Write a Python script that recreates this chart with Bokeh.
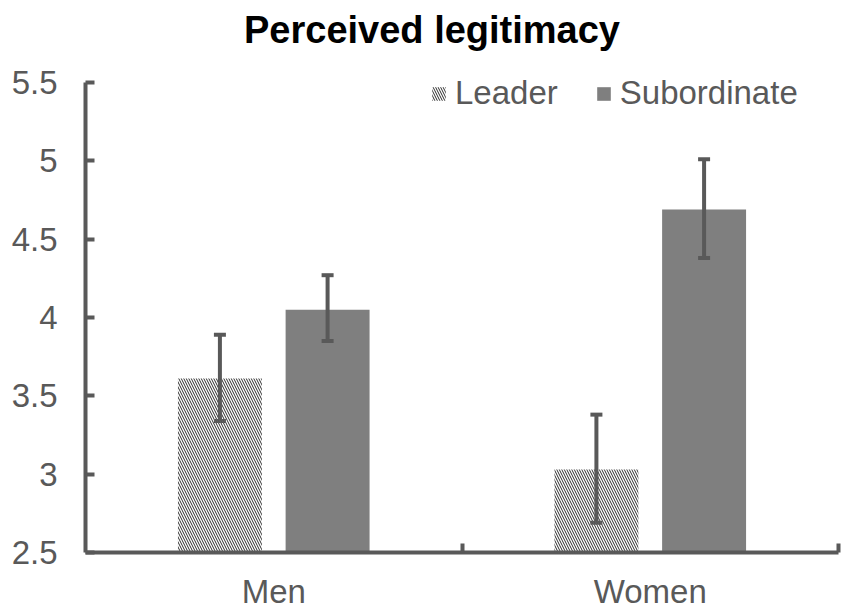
from bokeh.plotting import figure
from bokeh.models import (Range1d, FixedTicker, Whisker, TeeHead, ColumnDataSource,
                          Legend, LegendItem, Label)
from bokeh.embed import file_html
from bokeh.resources import INLINE

# ---- data ----
title_text = "Perceived legitimacy"
categories = ["Men", "Women"]
groups = ["Leader", "Subordinate"]
leader_mean = [3.61, 3.03]
leader_lower = [3.34, 2.69]
leader_upper = [3.89, 3.38]
sub_mean = [4.05, 4.69]
sub_lower = [3.85, 4.38]
sub_upper = [4.27, 5.01]
y_ticks = [2.5, 3, 3.5, 4, 4.5, 5, 5.5]
y_tick_labels = ["2.5", "3", "3.5", "4", "4.5", "5", "5.5"]

# ---- geometry / style ----
cat_pos = [i + 0.5 for i in range(len(categories))]
offset = 0.143
bar_w = 0.223
AX = "#595959"
FONT = "Liberation Sans"
FS = "33px"
# frame extends above the axis to host title and legend
y_top = y_ticks[-1] + (y_ticks[-1] - y_ticks[0]) * 82 / 470

leader_x = [c - offset for c in cat_pos]
sub_x = [c + offset for c in cat_pos]

src_leader = ColumnDataSource(dict(x=leader_x, top=leader_mean, lo=leader_lower, hi=leader_upper))
src_sub = ColumnDataSource(dict(x=sub_x, top=sub_mean, lo=sub_lower, hi=sub_upper))

p = figure(width=851, height=613, output_backend="svg", toolbar_location=None, title=None,
           x_range=Range1d(0, len(categories)), y_range=Range1d(y_ticks[0], y_top),
           min_border_left=85, min_border_right=13, min_border_top=0, min_border_bottom=61)
p.outline_line_color = None
p.grid.visible = False
p.background_fill_color = "white"

r_leader = p.vbar(x="x", top="top", bottom=y_ticks[0], width=bar_w, source=src_leader,
                  fill_color="white", line_color=None,
                  hatch_pattern="left_diagonal_line", hatch_color="#2a2a2a",
                  hatch_scale=5, hatch_weight=1)
r_sub = p.vbar(x="x", top="top", bottom=y_ticks[0], width=bar_w, source=src_sub,
               fill_color="#7f7f7f", line_color=None)

for src in (src_leader, src_sub):
    w = Whisker(base="x", lower="lo", upper="hi", source=src, level="annotation",
                line_color=AX, line_width=4,
                upper_head=TeeHead(size=12, line_color=AX, line_width=4),
                lower_head=TeeHead(size=12, line_color=AX, line_width=4))
    p.add_layout(w)

# x axis
xa = p.xaxis[0]
xa.ticker = FixedTicker(ticks=cat_pos, minor_ticks=[1, 2])
xa.major_label_overrides = {c: n for c, n in zip(cat_pos, categories)}
xa.major_tick_line_color = None
xa.minor_tick_in = 9
xa.minor_tick_out = 0
xa.minor_tick_line_color = AX
xa.minor_tick_line_width = 4
xa.axis_line_color = AX
xa.axis_line_width = 4
xa.major_label_text_font = FONT
xa.major_label_text_font_size = FS
xa.major_label_text_color = AX
xa.major_label_standoff = 14

# y axis
ya = p.yaxis[0]
ya.bounds = (y_ticks[0], y_ticks[-1])
ya.ticker = FixedTicker(ticks=y_ticks)
ya.major_label_overrides = {t: l for t, l in zip(y_ticks, y_tick_labels)}
ya.major_tick_in = 9
ya.major_tick_out = 0
ya.major_tick_line_color = AX
ya.major_tick_line_width = 4
ya.minor_tick_line_color = None
ya.axis_line_color = AX
ya.axis_line_width = 4
ya.major_label_text_font = FONT
ya.major_label_text_font_size = FS
ya.major_label_text_color = AX
ya.major_label_standoff = 28

# title as a label inside the (extended) frame
p.add_layout(Label(x=346.5, y=523, x_units="screen", y_units="screen", text=title_text,
                   text_font=FONT, text_font_size="38px", text_font_style="bold",
                   text_color="black", text_align="center", text_baseline="alphabetic"))

legend = Legend(items=[LegendItem(label=groups[0], renderers=[r_leader]),
                       LegendItem(label=groups[1], renderers=[r_sub])],
                orientation="horizontal", location=(345, 440),
                label_text_font=FONT, label_text_font_size=FS, label_text_color=AX,
                glyph_width=17, glyph_height=17, spacing=37, label_standoff=8,
                border_line_color=None, background_fill_alpha=0, margin=0, padding=0)
p.add_layout(legend)

open("out.html", "w").write(file_html(p, INLINE))
